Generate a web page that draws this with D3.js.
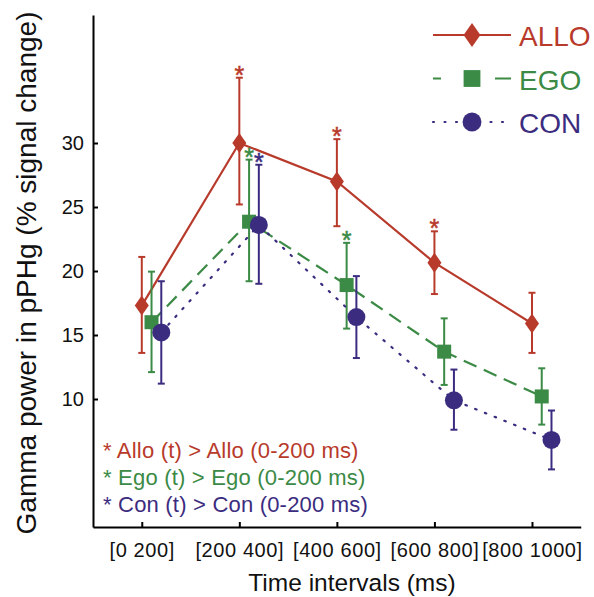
<!DOCTYPE html>
<html>
<head>
<meta charset="utf-8">
<script src="https://cdn.jsdelivr.net/npm/d3@7"></script>
<style>
  body { margin: 0; background: #fff; }
  text { font-family: "Liberation Sans", Arial, sans-serif; }
</style>
</head>
<body>
<div id="chart"></div>
<script>
var width = 594;
var height = 597;

// data
var intervals = ["[0 200]", "[200 400]", "[400 600]", "[600 800]", "[800 1000]"];
var yTicks = [10, 15, 20, 25, 30];

var alloMean = [17.3, 30.0, 27.0, 20.65, 15.9];
var alloHigh = [21.1, 35.1, 30.3, 23.1, 18.3];
var alloLow  = [13.6, 25.2, 23.5, 18.2, 13.6];
var alloSig  = [false, true, true, true, false];

var egoMean = [16.0, 23.85, 18.9, 13.7, 10.2];
var egoHigh = [19.95, 28.7, 22.2, 16.3, 12.4];
var egoLow  = [12.1, 19.2, 15.5, 11.1, 8.0];
var egoSig  = [false, true, true, false, false];

var conMean = [15.2, 23.6, 16.4, 9.9, 6.8];
var conHigh = [19.2, 28.3, 19.6, 12.3, 9.1];
var conLow  = [11.2, 19.0, 13.2, 7.6, 4.5];
var conSig  = [false, true, false, false, false];

var seriesNames = ["ALLO", "EGO", "CON"];
var notes = ["* Allo (t) > Allo (0-200 ms)", "* Ego (t) > Ego (0-200 ms)", "* Con (t) > Con (0-200 ms)"];

var red = "#b83a2b", green = "#3b8a45", blue = "#3b2c80";

var series = [
  {name: "ALLO", mean: alloMean, hi: alloHigh, lo: alloLow, sig: alloSig, color: red, off: 0, dash: null, marker: "diamond"},
  {name: "EGO", mean: egoMean, hi: egoHigh, lo: egoLow, sig: egoSig, color: green, off: 0.1, dash: "14,8", marker: "square"},
  {name: "CON", mean: conMean, hi: conHigh, lo: conLow, sig: conSig, color: blue, off: 0.2, dash: "1.5,9", marker: "circle"}
];

var svg = d3.select("#chart").append("svg")
    .attr("width", width).attr("height", height);

var x = d3.scaleLinear().domain([0.5, 5.5]).range([93, 580.75]);
var y = d3.scaleLinear().domain([0, 40]).range([527, 15]);

// axes
var yAxis = d3.axisLeft(y).tickValues(yTicks).tickSize(-5).tickSizeOuter(0).tickPadding(9);
var xAxis = d3.axisBottom(x).tickValues([1, 2, 3, 4, 5]).tickSize(-5).tickSizeOuter(0).tickPadding(16)
    .tickFormat(function(d) { return intervals[d - 1]; });

var gy = svg.append("g").attr("transform", "translate(93,0)").call(yAxis);
var gx = svg.append("g").attr("transform", "translate(0,527)").call(xAxis);

[gx, gy].forEach(function(g) {
    g.select(".domain").attr("stroke", "#000").attr("stroke-width", 2);
    g.selectAll(".tick line").attr("stroke", "#000").attr("stroke-width", 2);
    g.selectAll(".tick text").attr("fill", "#111").style("font-size", "20px");
});
gx.selectAll(".tick text").style("letter-spacing", "0.6px");

svg.append("text")
    .attr("transform", "translate(36,273) rotate(-90)")
    .attr("text-anchor", "middle")
    .style("font-size", "28px").attr("fill", "#111")
    .text("Gamma power in pPHg (% signal change)");

svg.append("text")
    .attr("x", 352).attr("y", 591)
    .attr("text-anchor", "middle")
    .style("font-size", "24.5px").attr("fill", "#111")
    .text("Time intervals (ms)");

function drawMarker(g, type, cx, cy, color, big) {
    var s = big ? 1.2 : 1;
    if (type === "diamond") {
        var w = 7 * s, h = 10 * s;
        g.append("path")
            .attr("d", "M" + cx + "," + (cy - h) + "L" + (cx + w) + "," + cy + "L" + cx + "," + (cy + h) + "L" + (cx - w) + "," + cy + "Z")
            .attr("fill", color);
    } else if (type === "square") {
        var a = 7 * s;
        g.append("rect").attr("x", cx - a).attr("y", cy - a)
            .attr("width", 2 * a).attr("height", 2 * a).attr("fill", color);
    } else {
        g.append("circle").attr("cx", cx).attr("cy", cy).attr("r", 9 * (big ? 1.05 : 1)).attr("fill", color);
    }
}

// series
series.forEach(function(s) {
    var g = svg.append("g");
    var pts = s.mean.map(function(v, i) { return [x(i + 1 + s.off), y(v)]; });

    g.append("path")
        .attr("d", d3.line()(pts))
        .attr("fill", "none")
        .attr("stroke", s.color)
        .attr("stroke-width", 2.2)
        .attr("stroke-dasharray", s.dash)
        .attr("stroke-linecap", s.marker === "circle" ? "round" : "butt");

    s.mean.forEach(function(v, i) {
        var cx = x(i + 1 + s.off);
        g.append("line").attr("x1", cx).attr("x2", cx)
            .attr("y1", y(s.lo[i])).attr("y2", y(s.hi[i]))
            .attr("stroke", s.color).attr("stroke-width", 2);
        [s.lo[i], s.hi[i]].forEach(function(e) {
            g.append("line").attr("x1", cx - 3.5).attr("x2", cx + 3.5)
                .attr("y1", y(e)).attr("y2", y(e))
                .attr("stroke", s.color).attr("stroke-width", 2);
        });
        if (s.sig[i]) {
            g.append("text").attr("x", cx).attr("y", y(s.hi[i]) + 6)
                .attr("text-anchor", "middle")
                .style("font-size", "25px").attr("fill", s.color)
                .attr("stroke", s.color).attr("stroke-width", 0.5)
                .text("*");
        }
    });

    s.mean.forEach(function(v, i) {
        drawMarker(g, s.marker, x(i + 1 + s.off), y(v), s.color, false);
    });
});

// legend
series.forEach(function(s, i) {
    var ly = 35 + i * 43.5;
    var g = svg.append("g");
    g.append("line").attr("x1", 433).attr("x2", 511).attr("y1", ly).attr("y2", ly)
        .attr("stroke", s.color).attr("stroke-width", 2.2)
        .attr("stroke-dasharray", s.marker === "square" ? "8,54,16" : (s.marker === "circle" ? "1,10.5" : null))
        .attr("stroke-linecap", s.marker === "circle" ? "round" : "butt");
    drawMarker(g, s.marker, 472, ly, s.color, true);
    g.append("text").attr("x", 519).attr("y", ly + 11)
        .style("font-size", "28px").attr("fill", s.color)
        .text(seriesNames[i]);
});

// notes
notes.forEach(function(t, i) {
    svg.append("text").attr("x", 103).attr("y", 458 + i * 27.2)
        .style("font-size", "22px").style("letter-spacing", "0.2px")
        .attr("fill", series[i].color)
        .text(t);
});
</script>
</body>
</html>
